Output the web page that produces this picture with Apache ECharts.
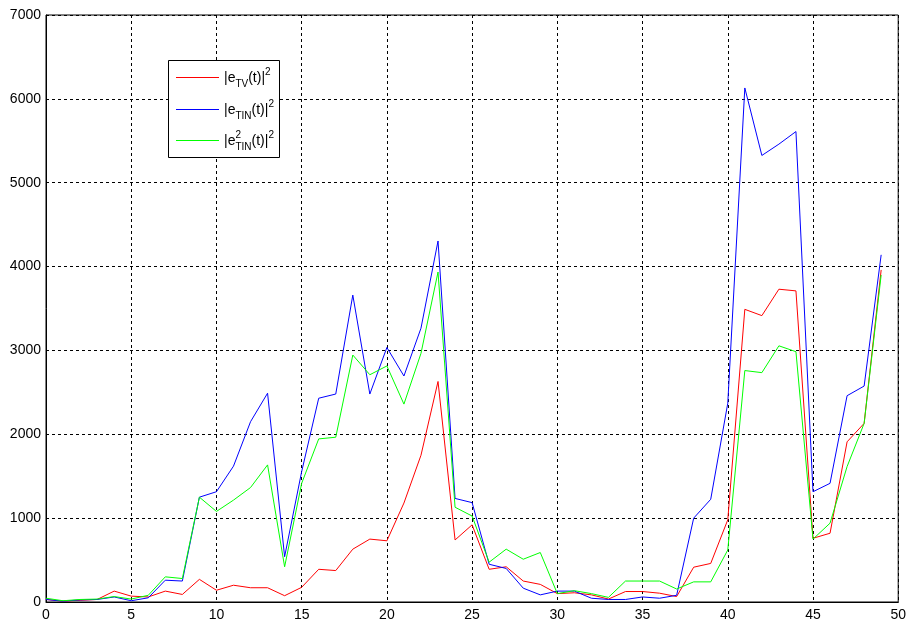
<!DOCTYPE html>
<html>
<head>
<meta charset="utf-8">
<script src="https://cdn.jsdelivr.net/npm/echarts@6/dist/echarts.min.js"></script>
<style>
  html, body { margin: 0; padding: 0; background: #fff; }
  #chart { width: 909px; height: 623px; }
</style>
</head>
<body>
<div id="chart"></div>
<script>
// time index t
const t = [0, 1, 2, 3, 4, 5, 6, 7, 8, 9,
           10, 11, 12, 13, 14, 15, 16, 17, 18, 19,
           20, 21, 22, 23, 24, 25, 26, 27, 28, 29,
           30, 31, 32, 33, 34, 35, 36, 37, 38, 39,
           40, 41, 42, 43, 44, 45, 46, 47, 48, 49];

// squared errors |e_TV(t)|^2
const errTV = [30, 10, 20, 30, 130, 70, 60, 130, 90, 270,
               140, 200, 170, 170, 75, 175, 390, 375, 630, 750,
               730, 1180, 1750, 2630, 740, 920, 390, 420, 250, 210,
               100, 110, 85, 35, 125, 125, 105, 65, 415, 460,
               980, 3490, 3415, 3730, 3710, 760, 820, 1910, 2130, 3960];

// squared errors |e_TIN(t)|^2
const errTIN = [30, 10, 25, 30, 60, 15, 50, 260, 250, 1250,
                1315, 1620, 2150, 2490, 540, 1555, 2430, 2480, 3660, 2480,
                3035, 2695, 3265, 4305, 1235, 1185, 450, 400, 165, 85,
                130, 130, 45, 30, 30, 60, 45, 80, 1000, 1225,
                2370, 6130, 5325, 5460, 5610, 1315, 1415, 2460, 2575, 4140];

// squared errors |e^2_TIN(t)|^2
const errTIN2 = [45, 15, 30, 35, 65, 35, 80, 300, 280, 1250,
                 1080, 1215, 1365, 1635, 420, 1415, 1945, 1965, 2945, 2710,
                 2815, 2360, 2965, 3935, 1130, 1025, 475, 630, 510, 590,
                 100, 135, 100, 55, 250, 250, 250, 155, 240, 240,
                 620, 2760, 2735, 3055, 2985, 750, 940, 1615, 2130, 3900];

const FONT = '"Liberation Sans", Arial, sans-serif';
const pairs = (ys) => t.map((x, i) => [x, ys[i]]);

const chart = echarts.init(document.getElementById('chart'), null, { renderer: 'canvas' });

const gridLine = { show: true, lineStyle: { color: '#000', width: 1, type: [3, 3] } };
const axisText = { color: '#000', fontFamily: FONT, fontSize: 14, formatter: (v) => String(v) };

// legend box drawn with graphic primitives (stacked sub/superscripts)
const legX = 168, legY = 60, rowY = [77, 109, 140];
const rich = {
  m: { fontFamily: FONT, fontSize: 14, color: '#000', lineHeight: 22, verticalAlign: 'middle' },
  sub: { fontFamily: FONT, fontSize: 10, color: '#000', lineHeight: 10, verticalAlign: 'bottom' },
  sup: { fontFamily: FONT, fontSize: 10, color: '#000', lineHeight: 10, verticalAlign: 'top' }
};
const legendItems = [
  { color: '#ff0000', text: '{m||e}{sub|TV}{m|(t)|}{sup|2}' },
  { color: '#0000ff', text: '{m||e}{sub|TIN}{m|(t)|}{sup|2}' },
  { color: '#00ff00', text: '{m||e}{sub|TIN}{m|(t)|}{sup|2}', stackedSup: '2' }
];
const graphics = [{
  type: 'rect', left: legX, top: legY, z: 100,
  shape: { width: 111, height: 97 },
  style: { fill: '#fff', stroke: '#000', lineWidth: 1 }
}];
legendItems.forEach((it, i) => {
  graphics.push({
    type: 'rect', left: 176, top: rowY[i], z: 101,
    shape: { width: 43, height: 1 },
    style: { fill: it.color, stroke: null }
  });
  graphics.push({
    type: 'text', z: 101, x: 224, y: rowY[i] + 1,
    style: { text: it.text, rich: rich, verticalAlign: 'middle', align: 'left' }
  });
  if (it.stackedSup) {
    graphics.push({
      type: 'text', z: 101, x: 235.5, y: rowY[i] - 10,
      style: { text: it.stackedSup, fontFamily: FONT, fontSize: 10, fill: '#000', verticalAlign: 'top' }
    });
  }
});

const option = {
  animation: false,
  backgroundColor: '#fff',
  grid: { left: 46, right: 8, top: 15, bottom: 21, show: true, borderColor: '#000', borderWidth: 1 },
  xAxis: {
    type: 'value', min: 0, max: 50, interval: 5,
    axisLine: { show: true, lineStyle: { color: '#000' } },
    axisTick: { show: false },
    axisLabel: Object.assign({ margin: 6 }, axisText),
    splitLine: gridLine
  },
  yAxis: {
    type: 'value', min: 0, max: 7000, interval: 1000,
    axisLine: { show: true, lineStyle: { color: '#000' } },
    axisTick: { show: false },
    axisLabel: Object.assign({ margin: 5 }, axisText),
    splitLine: gridLine
  },
  series: [
    { name: 'TV', type: 'line', data: pairs(errTV), showSymbol: false, symbol: 'none',
      lineStyle: { color: '#ff0000', width: 1 }, itemStyle: { color: '#ff0000' } },
    { name: 'TIN', type: 'line', data: pairs(errTIN), showSymbol: false, symbol: 'none',
      lineStyle: { color: '#0000ff', width: 1 }, itemStyle: { color: '#0000ff' } },
    { name: 'TIN2', type: 'line', data: pairs(errTIN2), showSymbol: false, symbol: 'none',
      lineStyle: { color: '#00ff00', width: 1 }, itemStyle: { color: '#00ff00' } }
  ],
  graphic: graphics
};

chart.setOption(option);
</script>
</body>
</html>
